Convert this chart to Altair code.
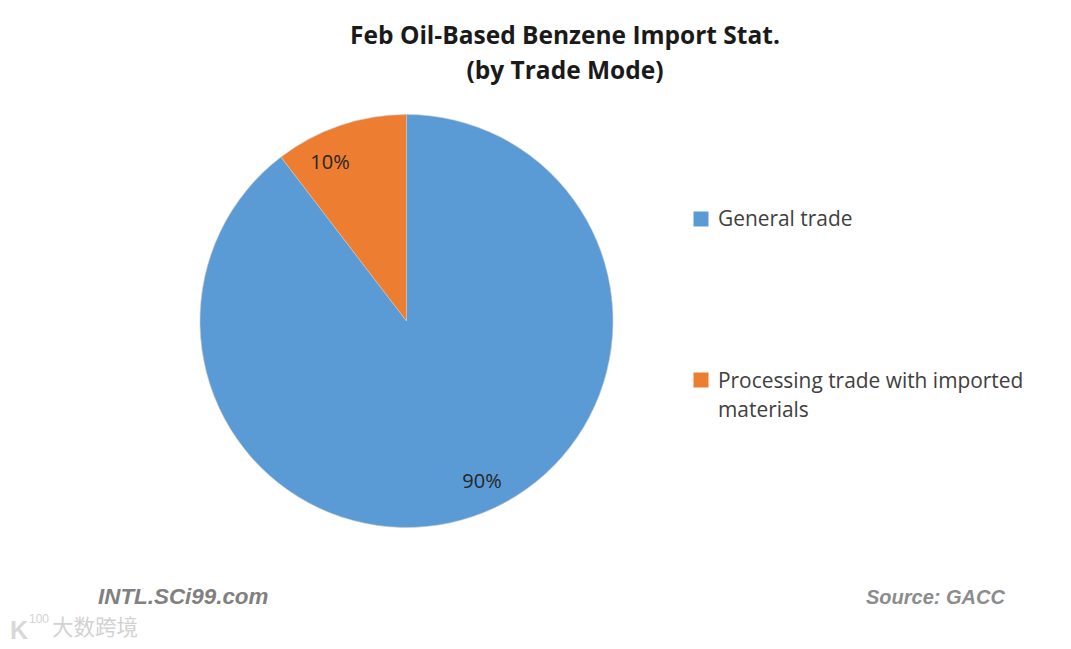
import altair as alt
import pandas as pd

FONT = "Open Sans"
categories = ["General trade", "Processing trade with imported materials"]
values = [89.6, 10.4]
labels = ["90%", "10%"]
colors = ["#5B9BD5", "#ED7D31"]
title_lines = ["Feb Oil-Based Benzene Import Stat.", "(by Trade Mode)"]

df = pd.DataFrame({"cat": categories, "v": values, "o": [0, 1]})
W, H = 1055, 633
cx, cy = 398.5, 313

scale_px = alt.Scale(domain=[0, W], range=[0, W])
scale_py = alt.Scale(domain=[0, H], range=[0, H])
X = alt.X("x:Q", scale=scale_px, axis=None)
Y = alt.Y("y:Q", scale=scale_py, axis=None)

pie = alt.Chart(df).mark_arc(outerRadius=206.5, stroke="#c8c8c8", strokeWidth=0.6).encode(
    theta=alt.Theta("v:Q", stack=True, scale=alt.Scale(domain=[0, 100], range=[0, 6.2832])),
    color=alt.Color("cat:N", scale=alt.Scale(domain=categories, range=colors), legend=None),
    order=alt.Order("o:Q"),
    x=alt.value(cx), y=alt.value(cy),
)

txt = pd.DataFrame({"t": labels, "x": [474, 322], "y": [474, 155]})
slice_labels = alt.Chart(txt).mark_text(font=FONT, fontSize=20, color="#262626").encode(x=X, y=Y, text="t:N")

leg = pd.DataFrame({"x": [693, 693], "y": [211, 372], "c": categories})
sw = alt.Chart(leg).mark_square(size=225, opacity=1, filled=True).encode(
    x=X, y=Y, color=alt.Color("c:N", scale=alt.Scale(domain=categories, range=colors), legend=None))

leg_t = pd.DataFrame({"t": ["General trade", "Processing trade with imported", "materials"],
                      "x": [710, 710, 710], "y": [212, 374, 403]})
leg_text = alt.Chart(leg_t).mark_text(font=FONT, fontSize=20.9, align="left", color="#404040").encode(
    x=X, y=Y, text="t:N")

ttl = pd.DataFrame({"t": title_lines, "x": [557, 557], "y": [29, 64]})
title = alt.Chart(ttl).mark_text(font=FONT, fontSize=24.5, fontWeight="bold", color="#1a1a1a").encode(
    x=X, y=Y, text="t:N")

foot1 = pd.DataFrame({"t": ["INTL.SCi99.com"], "x": [90], "y": [589]})
footer1 = alt.Chart(foot1).mark_text(font="Liberation Sans", fontSize=22.4, fontWeight="bold", fontStyle="italic",
                                     align="left", color="#808080").encode(x=X, y=Y, text="t:N")
foot2 = pd.DataFrame({"t": ["Source: GACC"], "x": [858], "y": [590]})
footer2 = alt.Chart(foot2).mark_text(font="Liberation Sans", fontSize=20, fontWeight="bold", fontStyle="italic",
                                     align="left", color="#8c8c8c").encode(x=X, y=Y, text="t:N")

wm = pd.DataFrame({"t": ["大数跨境"], "x": [44], "y": [621]})
water = alt.Chart(wm).mark_text(font="Noto Sans CJK SC", fontSize=21.5, align="left", color="#d2d2d2").encode(
    x=X, y=Y, text="t:N")
wm_k = pd.DataFrame({"t": ["K"], "x": [2], "y": [623]})
water_k = alt.Chart(wm_k).mark_text(font="Liberation Sans", fontSize=25, fontWeight="bold", align="left",
                                    color="#d8d8d8").encode(x=X, y=Y, text="t:N")
wm_n = pd.DataFrame({"t": ["100"], "x": [21], "y": [611]})
water_n = alt.Chart(wm_n).mark_text(font="Liberation Sans", fontSize=12, align="left",
                                    color="#d2d2d2").encode(x=X, y=Y, text="t:N")

chart = alt.layer(pie, slice_labels, sw, leg_text, title, footer1, footer2, water, water_k, water_n).resolve_scale(
    color="independent", x="shared", y="shared"
).properties(width=W, height=H, padding=0, background="white").configure_view(stroke=None)

chart.save("out.html", embed_options={"renderer": "svg", "actions": False})
